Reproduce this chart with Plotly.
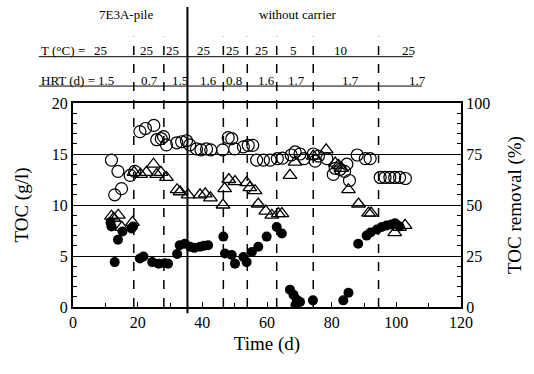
import plotly.graph_objects as go

# ---- data ----
open_circle_day = [11.9, 12.9, 13.9, 15.0, 17.7, 19.1, 20.7, 22.4, 25.0, 25.9, 27.3, 28.0, 28.9,
                   32.1, 33.6, 35.1, 36.1, 38.2, 39.6, 41.3, 42.6, 46.3, 48.0, 49.1, 50.0, 52.7,
                   54.2, 55.6, 56.8, 58.9, 61.0, 63.2, 64.8, 67.5, 68.7, 70.2, 71.5, 74.3, 74.9,
                   75.9, 78.5, 80.5, 81.1, 82.6, 84.0, 84.7, 85.5, 87.9, 90.4, 91.9, 95.0, 96.5,
                   98.0, 99.5, 101.0, 102.8]
open_circle_toc = [14.4, 11.0, 13.3, 11.6, 12.9, 13.3, 17.2, 17.5, 17.8, 16.4, 16.5, 16.7, 15.9,
                   16.1, 16.2, 16.3, 15.9, 15.5, 15.4, 15.5, 15.4, 15.4, 16.6, 16.5, 15.5, 15.7,
                   15.85, 15.85, 14.4, 14.4, 14.4, 14.55, 14.6, 14.9, 15.2, 15.0, 14.55, 15.0, 14.3,
                   14.8, 14.55, 13.0, 13.6, 13.5, 13.3, 14.0, 12.4, 14.9, 14.55, 14.55, 12.7, 12.7,
                   12.7, 12.7, 12.7, 12.6]

triangle_day = [11.9, 12.6, 14.0, 15.1, 18.4, 18.9, 20.9, 22.7, 24.9, 25.9, 27.2, 28.9, 32.2,
                33.1, 35.6, 39.3, 40.9, 42.5, 46.4, 46.9, 48.2, 50.1, 53.7, 54.7, 56.3, 57.3,
                59.6, 61.5, 63.5, 64.6, 67.1, 68.7, 74.3, 78.3, 81.1, 82.1, 83.1, 85.2, 88.3,
                91.4, 92.2, 99.5, 101.0, 102.7]
triangle_removal = [44.5, 43.5, 45.0, 39.0, 41.5, 66.0, 65.0, 66.0, 70.0, 65.0, 66.0, 63.5, 57.5,
                    56.5, 55.0, 55.0, 55.5, 53.5, 50.0, 58.0, 62.5, 61.5, 61.0, 58.5, 57.0, 50.5,
                    47.0, 45.0, 45.75, 45.75, 64.5, 71.0, 74.0, 77.0, 70.5, 69.5, 68.0, 57.5, 50.5,
                    46.0, 46.0, 36.5, 39.0, 40.0]

filled_day = [11.6, 11.9, 12.9, 13.9, 15.3, 18.1, 18.6, 20.7, 21.8, 24.5, 26.5, 28.4, 29.4,
              32.2, 33.0, 34.6, 36.2, 37.5, 39.3, 40.5, 41.8, 46.5, 47.0, 49.1, 50.1, 52.7,
              53.7, 55.3, 57.3, 59.9, 63.0, 64.6, 67.1, 68.2, 69.2, 68.8, 70.2, 74.2, 83.6,
              85.2, 88.2, 90.8, 92.0, 94.0, 95.5, 97.0, 98.5, 99.6, 101.0]
filled_toc = [8.3, 7.9, 4.4, 6.6, 7.4, 7.7, 7.9, 4.75, 4.95, 4.4, 4.25, 4.3, 4.25,
              5.2, 6.05, 6.2, 5.9, 5.8, 5.9, 6.0, 6.05, 6.9, 5.25, 5.1, 4.25, 4.9,
              4.4, 5.4, 5.9, 6.9, 7.85, 7.2, 1.7, 1.2, 0.7, 0.2, 0.5, 0.65, 0.65,
              1.4, 6.2, 7.0, 7.3, 7.6, 7.85, 8.0, 8.1, 8.2, 7.9]

dashed_days = [18.8, 28.1, 46.5, 53.9, 63.0, 74.3, 94.5]
solid_day = 35.4

temp_labels = ["25", "25", "25", "25", "25", "25", "5", "10", "25"]
temp_pos = [8.6, 22.7, 30.8, 40.3, 49.2, 58.4, 68.2, 82.6, 103.8]
hrt_labels = ["1.5", "0.7", "1.5", "1.6", "0.8", "1.6", "1.7", "1.7", "1.7"]
hrt_pos = [10.1, 23.8, 33.1, 41.8, 49.8, 59.9, 69.2, 85.7, 106.4]

FONT = '"Liberation Serif", "Times New Roman", Times, serif'

fig = go.Figure()
fig.add_trace(go.Scatter(x=open_circle_day, y=open_circle_toc, mode="markers",
                         marker=dict(symbol="circle-open", size=12, color="black",
                                     line=dict(width=1.2, color="black")),
                         yaxis="y", showlegend=False))
fig.add_trace(go.Scatter(x=filled_day, y=filled_toc, mode="markers",
                         marker=dict(symbol="circle", size=10, color="black"),
                         yaxis="y", showlegend=False))
fig.add_trace(go.Scatter(x=triangle_day, y=triangle_removal, mode="markers",
                         marker=dict(symbol="triangle-up-open", size=12, color="black",
                                     line=dict(width=1.3, color="black")),
                         yaxis="y2", showlegend=False))

shapes = []
for d in dashed_days:
    shapes.append(dict(type="line", xref="x", yref="paper", x0=d, x1=d, y0=0, y1=1.325,
                       line=dict(color="black", width=1.5, dash="dash")))
shapes.append(dict(type="line", xref="x", yref="paper", x0=solid_day, x1=solid_day,
                   y0=-0.031, y1=1.471, line=dict(color="black", width=2)))
# underlines of the two text rows
shapes.append(dict(type="line", xref="paper", yref="paper", x0=-0.088, x1=0.876,
                   y0=1.227, y1=1.227, line=dict(color="black", width=1)))
shapes.append(dict(type="line", xref="paper", yref="paper", x0=-0.088, x1=0.899,
                   y0=1.083, y1=1.083, line=dict(color="black", width=1)))

ann = []
tfont = dict(family=FONT, size=13, color="black")
ann.append(dict(text="7E3A-pile", x=16.5, xref="x", y=1.432, yref="paper", showarrow=False,
                font=tfont, xanchor="center", yanchor="middle"))
ann.append(dict(text="without carrier", x=69.7, xref="x", y=1.432, yref="paper", showarrow=False,
                font=tfont, xanchor="center", yanchor="middle"))
ann.append(dict(text="T (°C)", x=-0.088, xref="paper", y=1.255, yref="paper", showarrow=False,
                font=tfont, xanchor="left", yanchor="middle"))
ann.append(dict(text="=", x=0.023, xref="paper", y=1.255, yref="paper", showarrow=False,
                font=tfont, xanchor="center", yanchor="middle"))
ann.append(dict(text="HRT (d) =", x=-0.088, xref="paper", y=1.111, yref="paper", showarrow=False,
                font=tfont, xanchor="left", yanchor="middle"))
for lab, p in zip(temp_labels, temp_pos):
    ann.append(dict(text=lab, x=p, xref="x", y=1.255, yref="paper", showarrow=False,
                    font=tfont, xanchor="center", yanchor="middle"))
for lab, p in zip(hrt_labels, hrt_pos):
    ann.append(dict(text=lab, x=p, xref="x", y=1.111, yref="paper", showarrow=False,
                    font=tfont, xanchor="center", yanchor="middle"))

axfont = dict(family=FONT, size=16, color="black")
titfont = dict(family=FONT, size=19, color="black")
fig.update_layout(
    width=534, height=374,
    margin=dict(l=73, r=73, t=103, b=67),
    paper_bgcolor="white", plot_bgcolor="white",
    font=dict(family=FONT, color="black"),
    shapes=shapes, annotations=ann,
    xaxis=dict(range=[0, 120], dtick=20, tick0=0, showgrid=False, zeroline=False,
               showline=True, linecolor="black", linewidth=2, mirror=True,
               ticks="inside", ticklen=5, tickcolor="black", tickfont=axfont,
               minor=dict(dtick=10, ticks="inside", ticklen=4, tickcolor="black"),
               title=dict(text="Time (d)", font=titfont, standoff=6)),
    yaxis=dict(range=[0, 20], dtick=5, tick0=0, showgrid=True, gridcolor="black", gridwidth=1,
               zeroline=False, showline=True, linecolor="black", linewidth=2,
               ticks="inside", ticklen=5, tickcolor="black", tickfont=axfont,
               minor=dict(dtick=1, ticks="inside", ticklen=4, tickcolor="black", showgrid=False),
               title=dict(text="TOC (g/l)", font=titfont, standoff=18)),
    yaxis2=dict(range=[0, 100], dtick=25, tick0=0, overlaying="y", side="right",
                showgrid=False, zeroline=False, showline=True, linecolor="black", linewidth=2,
                ticks="inside", ticklen=5, tickcolor="black", tickfont=axfont,
                minor=dict(dtick=5, ticks="inside", ticklen=4, tickcolor="black"),
                title=dict(text="TOC removal (%)", font=titfont, standoff=18)),
)

fig.write_html("out.html", config={"displayModeBar": False},
               post_script="document.body.style.margin='0';document.body.style.padding='0';")
